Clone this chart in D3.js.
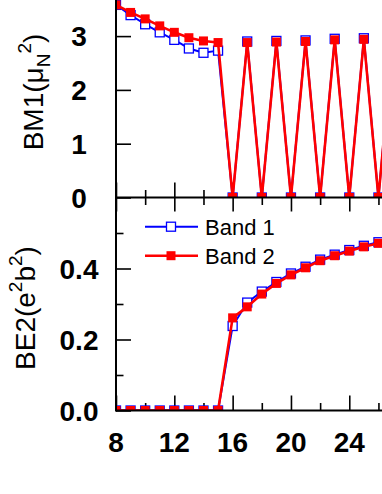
<!DOCTYPE html>
<html>
<head>
<meta charset="utf-8">
<script src="https://cdn.jsdelivr.net/npm/d3@7"></script>
<style>
  body { margin: 0; background: #fff; }
  svg { display: block; font-family: "Liberation Sans", Arial, sans-serif; }
</style>
</head>
<body>
<svg id="chart" width="382" height="494"></svg>
<script>
// spin values
var spins = [8, 9, 10, 11, 12, 13, 14, 15, 16, 17, 18, 19, 20, 21, 22, 23, 24, 25, 26, 27];

// B(M1) values, mu_N^2
var bm1Band1 = [3.58, 3.39, 3.22, 3.07, 2.93, 2.77, 2.69, 2.73, 0, 2.90, 0, 2.91, 0, 2.92, 0, 2.95, 0, 2.96, 0, 2.97];
var bm1Band2 = [3.58, 3.44, 3.32, 3.19, 3.07, 2.97, 2.91, 2.88, 0, 2.88, 0, 2.89, 0, 2.90, 0, 2.93, 0, 2.94, 0, 2.95];

// B(E2) values, e^2 b^2
var be2Band1 = [0, 0, 0, 0, 0, 0, 0, 0, 0.238, 0.304, 0.335, 0.362, 0.386, 0.405, 0.425, 0.439, 0.452, 0.464, 0.474, 0.483];
var be2Band2 = [0, 0, 0, 0, 0, 0, 0, 0, 0.261, 0.292, 0.328, 0.358, 0.382, 0.402, 0.422, 0.436, 0.449, 0.461, 0.471, 0.480];

var xTicks = [8, 12, 16, 20, 24];
var xMinor = [10, 14, 18, 22, 26];
var bm1Ticks = [0, 1, 2, 3];
var be2Ticks = [0.0, 0.2, 0.4];
var be2Minor = [0.1, 0.3, 0.5];
var legendNames = ["Band 1", "Band 2"];

const svg = d3.select("#chart");
const left = 116, mid = 197.5, bottom = 410.5;

var x = d3.scaleLinear().domain([8, 27]).range([left, left + 19 * 14.58]);
var yTop = d3.scaleLinear().domain([0, 4]).range([mid, mid - 4 * 53.8]);
var yBot = d3.scaleLinear().domain([0, 0.6]).range([bottom, mid]);

svg.append("clipPath").attr("id", "clipTop")
  .append("rect").attr("x", left).attr("y", -50).attr("width", 400).attr("height", mid + 50);
svg.append("clipPath").attr("id", "clipBot")
  .append("rect").attr("x", left).attr("y", mid).attr("width", 400).attr("height", bottom - mid);

// x axes (ticks inside each panel)
var gx1 = svg.append("g").attr("transform", "translate(0," + mid + ")");
gx1.call(d3.axisTop(x).tickValues(xTicks).tickSize(15).tickFormat(""));
gx1.append("g").call(d3.axisTop(x).tickValues(xMinor).tickSize(7.5).tickFormat(""));
var gx2 = svg.append("g").attr("transform", "translate(0," + mid + ")");
gx2.call(d3.axisBottom(x).tickValues(xTicks).tickSize(14).tickFormat(""));
gx2.append("g").call(d3.axisBottom(x).tickValues(xMinor).tickSize(7.5).tickFormat(""));
var gx3 = svg.append("g").attr("transform", "translate(0," + bottom + ")");
gx3.call(d3.axisTop(x).tickValues(xTicks).tickSize(15).tickFormat(""));
gx3.append("g").call(d3.axisTop(x).tickValues(xMinor).tickSize(7.5).tickFormat(""));

// y axes
var gy1 = svg.append("g").attr("transform", "translate(" + left + ",0)");
gy1.call(d3.axisRight(yTop).tickValues(bm1Ticks).tickSize(15).tickFormat(""));
var gy2 = svg.append("g").attr("transform", "translate(" + left + ",0)");
gy2.call(d3.axisRight(yBot).tickValues(be2Ticks).tickSize(15).tickFormat(""));
gy2.append("g").call(d3.axisRight(yBot).tickValues(be2Minor).tickSize(7.5).tickFormat(""));

svg.selectAll(".domain").remove();
svg.selectAll(".tick line").attr("stroke", "#000").attr("stroke-width", 1.6);

// data
function drawSeries(g, ys, yScale, color, filled, width) {
  var pts = spins.map(function (s, i) { return [s, ys[i]]; });
  g.append("path")
    .datum(pts)
    .attr("fill", "none")
    .attr("stroke", color)
    .attr("stroke-width", width)
    .attr("stroke-linejoin", "round")
    .attr("d", d3.line().x(function (d) { return x(d[0]); }).y(function (d) { return yScale(d[1]); }));
  g.selectAll(null)
    .data(pts)
    .enter()
    .append("rect")
    .attr("x", function (d) { return x(d[0]) - 4.5; })
    .attr("y", function (d) { return yScale(d[1]) - 4.5; })
    .attr("width", 9)
    .attr("height", 9)
    .attr("fill", filled ? color : "#fff")
    .attr("stroke", color)
    .attr("stroke-width", filled ? 0 : 1.3);
}

var gTop = svg.append("g").attr("clip-path", "url(#clipTop)");
drawSeries(gTop, bm1Band1, yTop, "#0000ff", false, 2);
drawSeries(gTop, bm1Band2, yTop, "#ff0000", true, 2.6);
var gBot = svg.append("g").attr("clip-path", "url(#clipBot)");
drawSeries(gBot, be2Band1, yBot, "#0000ff", false, 2);
drawSeries(gBot, be2Band2, yBot, "#ff0000", true, 2.6);

// frame lines
svg.append("line").attr("x1", left).attr("x2", 382).attr("y1", mid).attr("y2", mid)
  .attr("stroke", "#000").attr("stroke-width", 2);
svg.append("line").attr("x1", left).attr("x2", 382).attr("y1", bottom).attr("y2", bottom)
  .attr("stroke", "#000").attr("stroke-width", 2);
svg.append("line").attr("x1", left).attr("x2", left).attr("y1", 0).attr("y2", bottom + 1)
  .attr("stroke", "#000").attr("stroke-width", 2);

// tick labels
svg.selectAll(".xl").data(xTicks).enter().append("text")
  .attr("x", function (d) { return x(d); })
  .attr("y", 451.5)
  .attr("text-anchor", "middle")
  .attr("font-size", 28).attr("font-weight", "bold")
  .text(function (d) { return d; });
svg.selectAll(".yl1").data(bm1Ticks).enter().append("text")
  .attr("x", 79)
  .attr("y", function (d) { return yTop(d) + 10; })
  .attr("text-anchor", "middle")
  .attr("font-size", 28).attr("font-weight", "bold")
  .text(function (d) { return d; });
svg.selectAll(".yl2").data(be2Ticks).enter().append("text")
  .attr("x", 79)
  .attr("y", function (d) { return yBot(d) + 10; })
  .attr("text-anchor", "middle")
  .attr("font-size", 28).attr("font-weight", "bold")
  .text(function (d) { return d.toFixed(1); });

// axis titles
var t1 = svg.append("text")
  .attr("transform", "translate(42.5,92) rotate(-90)")
  .attr("text-anchor", "middle")
  .attr("font-size", 28);
t1.append("tspan").text("BM1(\u03bc");
t1.append("tspan").attr("font-size", 19).attr("dy", 7).text("N");
t1.append("tspan").attr("font-size", 19).attr("dy", -19).text("2");
t1.append("tspan").attr("dy", 12).text(")");

var t2 = svg.append("text")
  .attr("transform", "translate(35,308) rotate(-90)")
  .attr("text-anchor", "middle")
  .attr("font-size", 28);
t2.append("tspan").text("BE2(e");
t2.append("tspan").attr("font-size", 19).attr("dy", -13).text("2");
t2.append("tspan").attr("dy", 13).text("b");
t2.append("tspan").attr("font-size", 19).attr("dy", -13).text("2");
t2.append("tspan").attr("dy", 13).text(")");

// legend
var legColors = ["#0000ff", "#ff0000"];
var leg = svg.selectAll(".leg").data(legendNames).enter().append("g")
  .attr("transform", function (d, i) { return "translate(0," + (226.7 + i * 29) + ")"; });
leg.append("line").attr("x1", 145).attr("x2", 198).attr("y1", 0).attr("y2", 0)
  .attr("stroke", function (d, i) { return legColors[i]; })
  .attr("stroke-width", function (d, i) { return i ? 2.6 : 2; });
leg.append("rect").attr("x", 166.5).attr("y", -4.5).attr("width", 9).attr("height", 9)
  .attr("fill", function (d, i) { return i ? legColors[i] : "#fff"; })
  .attr("stroke", function (d, i) { return legColors[i]; })
  .attr("stroke-width", function (d, i) { return i ? 0 : 1.3; });
leg.append("text").attr("x", 205).attr("y", 7.8)
  .attr("font-size", 22)
  .text(function (d) { return d; });
</script>
</body>
</html>
